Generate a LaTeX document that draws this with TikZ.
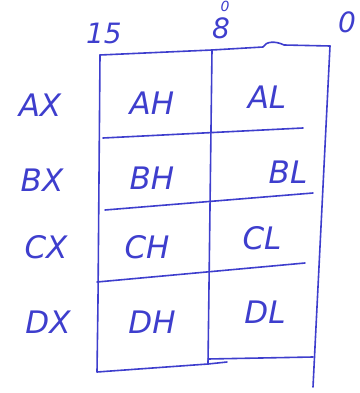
\documentclass[tikz,border=0pt]{standalone}
\usepackage{fontspec}
\setmainfont{DejaVu Sans}
\usetikzlibrary{positioning}
\definecolor{penblue}{RGB}{62,62,205}

\begin{document}
\begin{tikzpicture}[x=1pt, y=-1pt,
  pen/.style={draw=penblue, line width=1.6pt, line cap=round, line join=round},
  reg/.style={text=penblue, font=\fontsize{31}{31}\selectfont\itshape, inner sep=0pt},
  bit/.style={text=penblue, font=\fontsize{28}{28}\selectfont\itshape, inner sep=0pt}
]
\useasboundingbox (0,0) rectangle (359,393);

% bit numbers
\node[bit] (b15) at (104,33) {15};
\node[bit] (b8) at (221,28) {8};
\node[bit, font=\fontsize{14}{14}\selectfont\itshape] (b8top) at (225,6) {0};
\node[bit] (b0) at (347,22) {0};

% outline of the register block
\coordinate (tl) at (100,55);
\coordinate (tm) at (212,50);
\coordinate (tr) at (330,46);
\coordinate (bl) at (97,372);
\coordinate (bm) at (208,364);
\coordinate (br) at (313,357);
\draw[pen] (tl) -- (tm) -- (263,47) .. controls (266,41) and (276,41) .. (284,45) -- (tr);
\draw[pen] (tl) -- (98,300) -- (bl) -- (bm);
\draw[pen] (bm) -- (227,362);
\draw[pen] (tm) -- (bm);
\draw[pen] (tr) -- (313,387);
\draw[pen] (208,359) -- (br);

% row dividers
\draw[pen] (103,138) -- (303,128);
\draw[pen] (105,210) -- (313,193);
\draw[pen] (97,282) -- (305,263);

% 16-bit names
\node[reg] (ax) at (40,105) {AX};
\node[reg] (bx) at (42,180) {BX};
\node[reg] (cx) at (46,247) {CX};
\node[reg] (dx) at (48,322) {DX};

% 8-bit halves
\node[reg] (ah) at (152,103) {AH};
\node[reg] (al) at (267,97) {AL};
\node[reg] (bh) at (152,178) {BH};
\node[reg] (bl8) at (288,172) {BL};
\node[reg] (ch) at (147,247) {CH};
\node[reg] (cl) at (262,238) {CL};
\node[reg] (dh) at (152,322) {DH};
\node[reg] (dl) at (265,312) {DL};
\end{tikzpicture}
\end{document}
